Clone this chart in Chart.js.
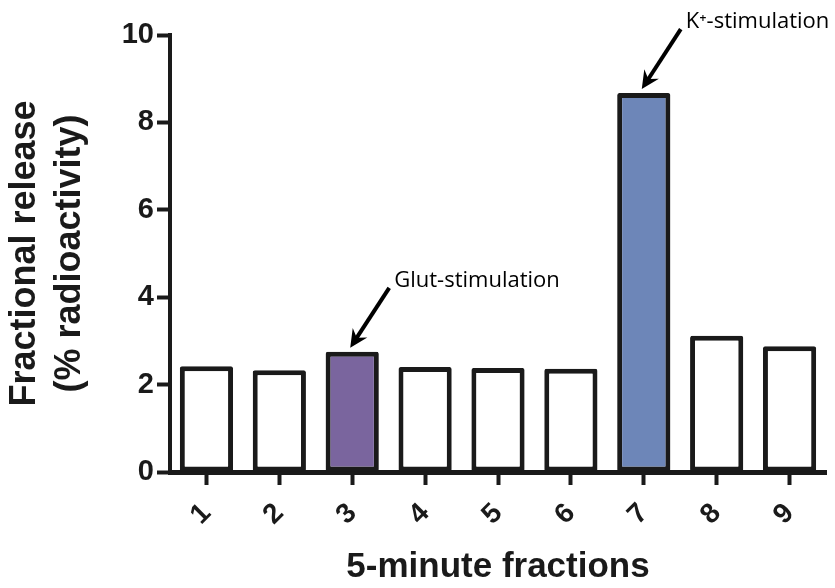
<!DOCTYPE html>
<html>
<head>
<meta charset="utf-8">
<script src="https://cdn.jsdelivr.net/npm/chart.js@4.4.1/dist/chart.umd.min.js"></script>
<style>
  html, body { margin: 0; padding: 0; background: #fff; }
  #wrap { width: 835px; height: 588px; }
</style>
</head>
<body>
<div id="wrap"><canvas id="releaseChart" width="835" height="588"></canvas></div>
<script>
// Data
const fractions = ['1', '2', '3', '4', '5', '6', '7', '8', '9'];
const releaseValues = [2.42, 2.33, 2.75, 2.40, 2.38, 2.36, 8.67, 3.12, 2.88];
const barColors = ['#ffffff', '#ffffff', '#7a659e', '#ffffff', '#ffffff', '#ffffff', '#6d86b8', '#ffffff', '#ffffff'];
const yTicks = [0, 2, 4, 6, 8, 10];
const notes = [
    { index: 2, text: 'Glut-stimulation' },
    { index: 6, text: 'K\u207A-stimulation' }
];

const ink = '#1a1a1a';
const axisFont = '"Liberation Sans", Arial, sans-serif';

// Draws the arrows + labels pointing at the stimulated fractions
const arrowNotes = {
    id: 'arrowNotes',
    afterDatasetsDraw(chart) {
        const ctx = chart.ctx;
        const xs = chart.scales.x, ys = chart.scales.y;
        notes.forEach(n => {
            const tipX = xs.getPixelForValue(n.index) - 2;
            const tipY = ys.getPixelForValue(releaseValues[n.index]) - 4;
            const tailX = tipX + 39, tailY = tipY - 60;
            const ang = Math.atan2(tipY - tailY, tipX - tailX);

            ctx.save();
            ctx.strokeStyle = '#000';
            ctx.fillStyle = '#000';
            ctx.lineWidth = 4;
            ctx.beginPath();
            ctx.moveTo(tailX, tailY);
            ctx.lineTo(tipX - 10 * Math.cos(ang), tipY - 10 * Math.sin(ang));
            ctx.stroke();

            // arrow head
            const hl = 20, hw = 0.45;
            ctx.beginPath();
            ctx.moveTo(tipX, tipY);
            ctx.lineTo(tipX - hl * Math.cos(ang - hw), tipY - hl * Math.sin(ang - hw));
            ctx.lineTo(tipX - 12 * Math.cos(ang), tipY - 12 * Math.sin(ang));
            ctx.lineTo(tipX - hl * Math.cos(ang + hw), tipY - hl * Math.sin(ang + hw));
            ctx.closePath();
            ctx.fill();

            ctx.font = '22px "Open Sans", "Noto Sans", sans-serif';
            ctx.textAlign = 'left';
            ctx.textBaseline = 'alphabetic';
            ctx.fillText(n.text, tailX + 5, tailY - 1);
            ctx.restore();
        });
    }
};

const ctx = document.getElementById('releaseChart').getContext('2d');
new Chart(ctx, {
    type: 'bar',
    data: {
        labels: fractions,
        datasets: [{
            data: releaseValues,
            backgroundColor: barColors,
            borderColor: ink,
            borderWidth: 5,
            borderRadius: 2,
            borderSkipped: false,
            categoryPercentage: 1.0,
            barPercentage: 0.73
        }]
    },
    options: {
        responsive: false,
        animation: false,
        layout: { padding: { top: 35, right: 9, left: 0, bottom: 0 } },
        plugins: {
            legend: { display: false },
            tooltip: { enabled: false }
        },
        scales: {
            x: {
                grid: {
                    offset: false,
                    drawOnChartArea: false,
                    drawTicks: true,
                    tickLength: 13,
                    tickWidth: 4,
                    tickColor: ink
                },
                border: { color: ink, width: 5 },
                ticks: {
                    color: ink,
                    font: { family: axisFont, size: 28, weight: 'bold' },
                    minRotation: 45,
                    maxRotation: 45,
                    padding: 12
                },
                title: {
                    display: true,
                    text: '5-minute fractions',
                    color: ink,
                    font: { family: axisFont, size: 35, weight: 'bold' },
                    padding: { top: 8, bottom: 0 }
                },
                afterFit(scale) { scale.height = 116; }
            },
            y: {
                min: 0,
                max: 10,
                afterBuildTicks(scale) { scale.ticks = yTicks.map(v => ({ value: v })); },
                grid: {
                    drawOnChartArea: false,
                    drawTicks: true,
                    tickLength: 13,
                    tickWidth: 4,
                    tickColor: ink
                },
                border: { color: ink, width: 4 },
                ticks: {
                    color: ink,
                    font: { family: axisFont, size: 29, weight: 'bold' },
                    padding: 3
                },
                title: {
                    display: true,
                    text: ['Fractional release', '(% radioactivity)'],
                    color: ink,
                    font: { family: axisFont, size: 36, weight: 'bold', lineHeight: 1.25 },
                    padding: { top: 3, bottom: 8 }
                },
                afterFit(scale) { scale.width = 170; }
            }
        }
    },
    plugins: [arrowNotes]
});
</script>
</body>
</html>
